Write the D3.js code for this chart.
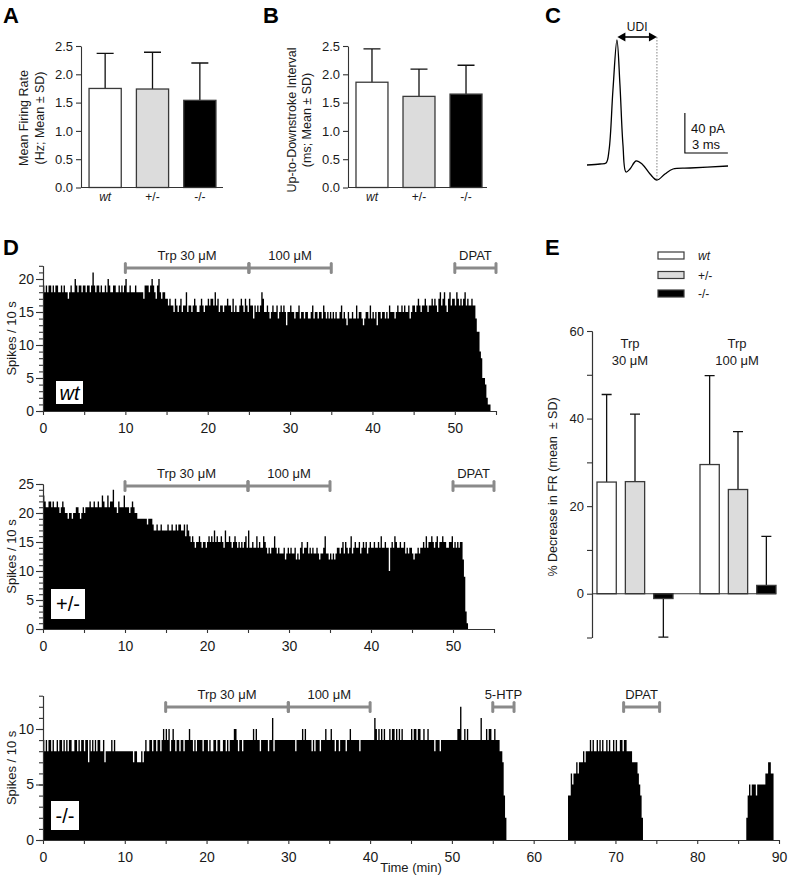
<!DOCTYPE html>
<html>
<head>
<meta charset="utf-8">
<script src="https://cdn.jsdelivr.net/npm/d3@7"></script>
<style>
  body { margin: 0; background: #fff; }
  svg { display: block; }
</style>
</head>
<body>
<svg width="790" height="885"></svg>
<script>
// ---------- data ----------
var genotypes = ['wt', '+/-', '-/-'];
var fillColors = ['#ffffff', '#dcdcdc', '#000000'];

// A: mean firing rate (Hz), B: up-to-downstroke interval (ms)
var rateMean = [1.75, 1.74, 1.54];
var rateSD = [0.62, 0.65, 0.66];
var udiMean = [1.86, 1.61, 1.65];
var udiSD = [0.59, 0.48, 0.51];
var barTicks = [0, 0.5, 1, 1.5, 2, 2.5];

// C: averaged spike waveform (time ms, current pA)
var spikeT = [0, 0.91, 1.33, 1.54, 1.81, 2.09, 2.30, 2.51, 2.72, 3.0, 3.42, 3.84, 4.40, 4.88, 5.44, 6.0, 7.19, 9.84];
var spikeI = [0, 1, 2, 15, 75, 125, 80, 20, -7, -4, 4, 1, -9, -15, -9, -4, -3, -1];
var udiStart = 2.12, udiEnd = 4.88;
var scalePA = 40, scaleMS = 3;

// E: % decrease in firing rate
var trpDoses = ['30 μM', '100 μM'];
var dec30Mean = [25.5, 25.6, -1.1];
var dec30SD = [20.0, 15.4, 8.8];
var dec100Mean = [29.5, 23.8, 1.9];
var dec100SD = [20.3, 13.2, 11.2];
var eTicks = [0, 20, 40, 60];
var eMinorTicks = [-10, 10, 30, 50];

// D: spike counts per 10 s bin
var binMin = 1 / 6;
var wtCounts = [
  19,18,19,18,19,19,18,19,18,19,19,18,18,19,18,19,18,18,17,18,19,18,18,20,19,18,19,19,18,19,
  19,18,19,19,18,19,21,19,18,19,19,18,19,18,18,19,18,20,19,18,18,19,19,18,18,19,18,19,18,19,
  20,18,18,19,18,18,18,19,18,18,18,18,18,17,19,19,19,18,19,20,19,18,17,19,20,18,17,18,18,17,
  17,16,17,16,16,15,17,16,15,16,17,15,16,16,18,15,16,16,15,16,17,16,15,15,16,17,16,15,16,16,
  17,16,17,17,16,18,16,17,15,16,16,15,16,16,17,16,16,15,17,15,16,15,15,16,17,16,15,17,16,15,
  17,16,16,14,16,15,16,15,16,18,17,15,15,16,15,14,15,16,15,15,16,14,15,16,15,16,15,13,15,15,
  16,15,15,14,15,15,16,14,15,15,14,15,15,14,14,15,16,14,15,15,14,15,15,14,16,15,14,15,14,15,
  14,15,14,15,14,14,15,16,14,15,14,13,15,14,14,15,14,14,16,14,15,15,14,13,14,15,15,14,16,14,
  15,14,15,13,15,15,14,15,15,14,15,14,16,15,15,15,14,15,16,15,15,16,15,16,15,15,16,14,15,16,
  16,15,16,17,16,15,16,16,17,16,15,16,16,17,16,17,16,15,17,18,16,17,18,16,15,17,18,16,17,17,
  16,18,17,16,17,16,17,18,16,17,16,16,17,16,16,14,12,12,9,8,5,5,4,2,1,1
];
var hetCounts = [
  23,22,21,21,22,22,21,22,21,21,22,21,20,21,22,21,20,20,19,20,20,19,20,20,21,21,20,19,20,21,
  20,21,21,21,22,21,21,22,21,21,22,21,21,23,22,21,21,23,21,22,22,24,21,21,20,22,21,21,21,23,
  21,21,21,20,21,22,21,20,20,19,19,19,19,19,19,19,18,19,19,19,18,17,17,18,17,17,18,17,17,17,
  17,18,17,17,18,17,17,18,17,18,18,17,17,18,16,18,17,16,15,16,15,14,15,15,16,15,14,15,15,14,
  15,16,15,16,15,17,15,16,15,15,16,15,14,17,15,15,16,15,14,15,16,15,14,15,14,15,14,15,16,14,
  17,14,14,15,14,14,16,14,15,14,14,16,15,14,13,14,13,14,14,16,14,13,14,13,13,13,14,12,13,14,
  13,14,13,13,14,12,13,12,14,15,13,14,14,15,13,14,13,14,13,13,14,13,12,13,13,14,16,13,13,12,
  13,12,13,12,13,14,14,13,14,15,13,15,14,13,14,16,13,14,15,14,14,15,13,14,15,14,15,13,14,15,
  14,14,15,14,14,15,14,16,14,14,15,14,14,10,14,15,14,16,15,14,14,15,14,14,15,13,14,13,14,14,
  13,12,13,13,14,13,14,14,15,14,16,14,15,15,16,15,14,15,16,14,15,15,16,15,15,14,14,15,15,16,
  14,15,14,15,14,15,15,12,9,3,1
];
var koStarts = [0, 64.2, 86.0];
var koBurst1 = [
  9,8,9,8,9,9,8,9,8,8,9,8,9,9,8,9,8,9,8,9,9,8,8,9,9,8,9,8,9,9,
  8,9,9,7,9,8,9,8,9,8,9,9,8,8,9,7,8,8,8,8,9,8,9,8,8,8,8,8,8,8,
  8,8,8,8,8,8,7,8,8,7,7,7,8,7,8,9,8,8,9,9,8,9,9,8,9,9,8,9,10,9,
  10,9,10,8,9,10,9,8,9,9,8,9,9,8,9,9,9,10,9,9,8,9,8,9,9,9,9,8,9,9,
  9,8,9,8,8,9,9,8,9,9,8,8,9,9,8,9,8,9,9,9,10,10,9,8,9,9,8,9,9,9,
  9,9,9,9,10,9,10,9,9,8,9,9,9,9,9,8,9,9,11,8,9,9,9,9,9,9,9,9,9,9,
  9,9,9,9,9,8,9,9,9,9,10,9,10,9,9,9,9,8,9,8,9,9,9,8,9,9,9,10,9,9,
  9,10,9,9,8,9,9,8,9,9,9,9,8,9,9,10,9,9,9,9,9,9,8,9,9,9,9,9,9,9,
  9,9,9,11,10,9,10,9,10,9,10,9,9,9,10,9,10,10,9,10,9,10,9,10,9,9,9,9,9,9,
  10,9,10,10,9,10,10,9,9,10,9,9,10,9,9,9,9,8,9,9,9,8,9,9,9,9,9,9,9,9,
  9,9,9,9,10,10,12,9,9,10,9,10,9,9,9,9,9,9,9,9,9,11,9,9,9,10,9,10,10,9,
  9,10,9,9,9,8,8,7,4,2
];
var koBurst2 = [
  4,4,6,5,6,6,7,6,7,7,7,8,7,8,8,8,
  9,8,9,8,8,9,8,9,8,9,8,8,9,8,9,8,8,9,8,9,8,8,
  9,9,8,9,9,8,8,8,8,7,7,7,7,6,5,4,2
];
var koBurst3 = [2,4,5,4,5,5,5,4,5,5,5,5,5,5,6,6,7,7,6,6];

// drug applications: [label, from (min), to (min)]
var wtDrugs = [['Trp 30 μM', 10, 25], ['100 μM', 25, 35], ['DPAT', 50, 55]];
var hetDrugs = [['Trp 30 μM', 10, 25], ['100 μM', 25, 35], ['DPAT', 50, 55]];
var koDrugs = [['Trp 30 μM', 15, 30], ['100 μM', 30, 40], ['5-HTP', 55, 57.6], ['DPAT', 71, 75.4]];

// ---------- drawing ----------
var FONT = '"Liberation Sans", Arial, Helvetica, sans-serif';
var svg = d3.select('svg').style('font-family', FONT);
svg.append('rect').attr('width', 790).attr('height', 885).attr('fill', '#fff');

function styleAxis(g, size) {
  g.selectAll('path, line').attr('stroke', '#333').attr('stroke-width', 1.1);
  g.selectAll('text').attr('fill', '#1a1a1a').style('font-size', (size || 13) + 'px').style('font-family', FONT);
}

function letter(t, x, y) {
  svg.append('text').attr('x', x).attr('y', y).text(t)
    .style('font-size', '22px').style('font-weight', 'bold').attr('fill', '#000');
}

function rotLabel(lines, x, y, gap) {
  lines.forEach(function(l, i) {
    svg.append('text')
      .attr('transform', 'translate(' + (x + i * gap) + ',' + y + ') rotate(-90)')
      .attr('text-anchor', 'middle')
      .style('font-size', '12.5px').style('white-space', 'pre')
      .attr('fill', '#1a1a1a')
      .text(l);
  });
}

// ---- A and B ----
function barPanel(o) {
  var y = d3.scaleLinear().domain([0, 2.5]).range([187.5, 46]);
  var x = d3.scaleBand().domain(genotypes).range([o.x0, o.x1]).paddingInner(0.32).paddingOuter(0.17);
  var g = svg.append('g');
  // error bars (upper only)
  g.selectAll('.eb').data(o.mean).enter().append('path')
    .attr('d', function(d, i) {
      var cx = x(genotypes[i]) + x.bandwidth() / 2;
      var top = y(d + o.sd[i]);
      return 'M' + cx + ',' + y(d) + 'V' + top + 'M' + (cx - 8.5) + ',' + top + 'H' + (cx + 8.5);
    })
    .attr('stroke', '#111').attr('stroke-width', 1.3).attr('fill', 'none');
  g.selectAll('.bar').data(o.mean).enter().append('rect')
    .attr('x', (d, i) => x(genotypes[i]))
    .attr('y', d => y(d))
    .attr('width', x.bandwidth())
    .attr('height', d => y(0) - y(d))
    .attr('fill', (d, i) => fillColors[i])
    .attr('stroke', '#3a3a3a').attr('stroke-width', 1.3);
  var ya = g.append('g').attr('transform', 'translate(' + o.x0 + ',0)')
    .call(d3.axisLeft(y).tickValues(barTicks).tickFormat(d3.format('.1f')).tickSize(5).tickPadding(3).tickSizeOuter(0));
  styleAxis(ya, 13);
  g.append('line').attr('x1', o.x0).attr('x2', o.xEnd).attr('y1', y(0)).attr('y2', y(0))
    .attr('stroke', '#333').attr('stroke-width', 1.1);
  g.selectAll('.cat').data(genotypes).enter().append('text')
    .attr('x', d => x(d) + x.bandwidth() / 2).attr('y', 201)
    .attr('text-anchor', 'middle').style('font-size', '12px')
    .style('font-style', d => d === 'wt' ? 'italic' : 'normal')
    .attr('fill', '#1a1a1a').text(d => d);
}

letter('A', 3, 23);
barPanel({ x0: 81, x1: 224, xEnd: 223, mean: rateMean, sd: rateSD });
rotLabel(['Mean Firing Rate', '(Hz; Mean ± SD)'], 28, 118, 16);

letter('B', 263, 23);
barPanel({ x0: 348, x1: 490, xEnd: 487, mean: udiMean, sd: udiSD });
rotLabel(['Up-to-Downstroke Interval', '(ms; Mean ± SD)'], 296, 120, 15);

// ---- C ----
letter('C', 545, 23);
(function() {
  var x = d3.scaleLinear().domain([0, 10]).range([587, 730.3]);
  var y = d3.scaleLinear().domain([0, 125]).range([165, 40]);
  var pts = spikeT.map((t, i) => [t, spikeI[i]]);
  var line = d3.line().x(d => x(d[0])).y(d => y(d[1])).curve(d3.curveCatmullRom.alpha(0.5));
  svg.append('path').datum(pts).attr('d', line)
    .attr('fill', 'none').attr('stroke', '#000').attr('stroke-width', 1.3);
  // dashed marker at downstroke
  svg.append('line').attr('x1', x(udiEnd)).attr('x2', x(udiEnd)).attr('y1', y(128)).attr('y2', y(-15))
    .attr('stroke', '#777').attr('stroke-width', 0.9).attr('stroke-dasharray', '1.5,1.5');
  // UDI double arrow
  var ay = y(128), xa = x(udiStart), xb = x(udiEnd);
  svg.append('line').attr('x1', xa + 6).attr('x2', xb - 6).attr('y1', ay).attr('y2', ay)
    .attr('stroke', '#000').attr('stroke-width', 1.6);
  svg.append('path').attr('d', 'M' + xa + ',' + ay + 'l8,-4.5v9z').attr('fill', '#000');
  svg.append('path').attr('d', 'M' + xb + ',' + ay + 'l-8,-4.5v9z').attr('fill', '#000');
  svg.append('text').attr('x', (xa + xb) / 2).attr('y', 31).attr('text-anchor', 'middle')
    .style('font-size', '12px').attr('fill', '#111').text('UDI');
  // scale bar
  var sx = x(6.83), sy = y(12);
  svg.append('path')
    .attr('d', 'M' + sx + ',' + y(12 + scalePA) + 'V' + sy + 'H' + x(6.83 + scaleMS))
    .attr('fill', 'none').attr('stroke', '#000').attr('stroke-width', 1.1);
  svg.append('text').attr('x', 708).attr('y', 133).attr('text-anchor', 'middle')
    .style('font-size', '13px').attr('fill', '#111').text(scalePA + ' pA');
  svg.append('text').attr('x', 706).attr('y', 149).attr('text-anchor', 'middle')
    .style('font-size', '13px').attr('fill', '#111').text(scaleMS + ' ms');
})();

// ---- D ----
letter('D', 3, 255);
function histPanel(o) {
  var x = d3.scaleLinear().domain([0, o.xMax]).range([43, o.xEnd]);
  var y = d3.scaleLinear().domain([0, o.yMax]).range([o.yBase, o.yTop]);
  var g = svg.append('g');
  // each burst is drawn as one stepped area so neighbouring bins do not leave seams
  var area = d3.area().curve(d3.curveStepAfter)
    .x(d => x(d[0])).y0(y(0)).y1(d => y(d[1]));
  o.bursts.forEach(function(b) {
    var pts = b.counts.map((c, i) => [b.start + i * binMin, c]);
    pts.push([b.start + b.counts.length * binMin, b.counts[b.counts.length - 1]]);
    g.append('path').datum(pts).attr('d', area).attr('fill', '#000');
  });
  var minor = g.append('g').attr('transform', 'translate(43,0)')
    .call(d3.axisLeft(y).tickValues(d3.range(0, o.yMax + 1)).tickSize(4).tickFormat('').tickSizeOuter(0));
  styleAxis(minor);
  var major = g.append('g').attr('transform', 'translate(43,0)')
    .call(d3.axisLeft(y).tickValues(d3.range(0, o.yMax + 1, 5)).tickSize(7).tickPadding(2).tickSizeOuter(0));
  styleAxis(major, 14);
  var xa = g.append('g').attr('transform', 'translate(0,' + o.yBase + ')')
    .call(d3.axisBottom(x).tickValues(d3.range(0, o.xMax + 1, 5)).tickSize(4).tickPadding(8)
      .tickFormat(d => d % 10 === 0 ? d : '').tickSizeOuter(0));
  styleAxis(xa, 14);
  // drug bars
  o.drugs.forEach(function(dr) {
    var x1 = x(dr[1]), x2 = x(dr[2]);
    g.append('line').attr('x1', x1).attr('x2', x2).attr('y1', o.drugY).attr('y2', o.drugY)
      .attr('stroke', '#8a8a8a').attr('stroke-width', 3);
    [x1, x2].forEach(function(xx) {
      g.append('line').attr('x1', xx).attr('x2', xx).attr('y1', o.drugY - 4.5).attr('y2', o.drugY + 4.5)
        .attr('stroke', '#8a8a8a').attr('stroke-width', 3).attr('stroke-linecap', 'round');
    });
    g.append('text').attr('x', (x1 + x2) / 2).attr('y', o.drugY - 8)
      .attr('text-anchor', 'middle').style('font-size', '13px').attr('fill', '#1a1a1a').text(dr[0]);
  });
  // genotype box
  g.append('rect').attr('x', o.box[0]).attr('y', o.box[1]).attr('width', o.box[2]).attr('height', o.box[3])
    .attr('fill', '#fff');
  g.append('text').attr('x', o.box[0] + o.box[2] / 2).attr('y', o.box[1] + o.box[3] / 2 + 7)
    .attr('text-anchor', 'middle').style('font-size', '20px')
    .style('font-style', o.name === 'wt' ? 'italic' : 'normal').attr('fill', '#000').text(o.name);
  // y label
  g.append('text').attr('transform', 'translate(16,' + ((o.yBase + o.yTop) / 2) + ') rotate(-90)')
    .attr('text-anchor', 'middle').style('font-size', '13px').attr('fill', '#1a1a1a').text('Spikes / 10 s');
}

histPanel({ name: 'wt', xMax: 55, xEnd: 496, yMax: 22, yBase: 411, yTop: 265.8,
  bursts: [{ start: 0, counts: wtCounts }], drugs: wtDrugs, drugY: 268, box: [56, 381, 27, 23] });
histPanel({ name: '+/-', xMax: 55, xEnd: 494, yMax: 25, yBase: 629, yTop: 484,
  bursts: [{ start: 0, counts: hetCounts }], drugs: hetDrugs, drugY: 486, box: [51, 589, 34, 30] });
histPanel({ name: '-/-', xMax: 90, xEnd: 779, yMax: 13, yBase: 840, yTop: 695.7,
  bursts: [{ start: koStarts[0], counts: koBurst1 }, { start: koStarts[1], counts: koBurst2 }, { start: koStarts[2], counts: koBurst3 }],
  drugs: koDrugs, drugY: 707, box: [51, 801, 28, 29] });
svg.append('text').attr('x', 411).attr('y', 872).attr('text-anchor', 'middle')
  .style('font-size', '13px').attr('fill', '#1a1a1a').text('Time (min)');

// ---- E ----
letter('E', 545, 255);
(function() {
  var y = d3.scaleLinear().domain([-10, 60]).range([637.5, 331]);
  var xG = d3.scaleBand().domain(trpDoses).range([592, 781]).paddingInner(0.262).paddingOuter(0.0485);
  var xI = d3.scaleBand().domain(genotypes).range([0, xG.bandwidth()]).paddingInner(0.32);
  var means = [dec30Mean, dec100Mean], sds = [dec30SD, dec100SD];
  var g = svg.append('g');
  trpDoses.forEach(function(dose, k) {
    var gg = g.append('g').attr('transform', 'translate(' + xG(dose) + ',0)');
    gg.selectAll('.eb').data(means[k]).enter().append('path')
      .attr('d', function(d, i) {
        var cx = xI(genotypes[i]) + xI.bandwidth() / 2;
        var end = d >= 0 ? y(d + sds[k][i]) : y(d - sds[k][i]);
        return 'M' + cx + ',' + y(d) + 'V' + end + 'M' + (cx - 5) + ',' + end + 'H' + (cx + 5);
      })
      .attr('stroke', '#111').attr('stroke-width', 1.3).attr('fill', 'none');
    gg.selectAll('.bar').data(means[k]).enter().append('rect')
      .attr('x', (d, i) => xI(genotypes[i]))
      .attr('y', d => y(Math.max(d, 0)))
      .attr('width', xI.bandwidth())
      .attr('height', d => Math.abs(y(0) - y(d)))
      .attr('fill', (d, i) => fillColors[i])
      .attr('stroke', '#3a3a3a').attr('stroke-width', 1.3);
    var cx = xG(dose) + xG.bandwidth() / 2 - 5;
    g.append('text').attr('x', cx + (k ? 4 : 0)).attr('y', 348).attr('text-anchor', 'middle')
      .style('font-size', '13px').attr('fill', '#1a1a1a').text('Trp');
    g.append('text').attr('x', cx + (k ? 4 : 0)).attr('y', 365).attr('text-anchor', 'middle')
      .style('font-size', '13px').attr('fill', '#1a1a1a').text(dose);
  });
  g.append('line').attr('x1', 592).attr('x2', 776).attr('y1', y(0)).attr('y2', y(0))
    .attr('stroke', '#333').attr('stroke-width', 1.1);
  var minor = g.append('g').attr('transform', 'translate(592,0)')
    .call(d3.axisLeft(y).tickValues(eMinorTicks).tickSize(5).tickFormat('').tickSizeOuter(0));
  styleAxis(minor);
  var major = g.append('g').attr('transform', 'translate(592,0)')
    .call(d3.axisLeft(y).tickValues(eTicks).tickSize(5).tickPadding(3).tickSizeOuter(0));
  styleAxis(major, 13);
  rotLabel(['% Decrease in FR (mean  ± SD)'], 557, 487, 0);
  // legend
  genotypes.forEach(function(gt, i) {
    var ly = [252, 271.5, 290][i];
    g.append('rect').attr('x', 658).attr('y', ly).attr('width', 26).attr('height', 7)
      .attr('fill', fillColors[i]).attr('stroke', '#3a3a3a').attr('stroke-width', 1.2);
    g.append('text').attr('x', 698).attr('y', ly + 8).style('font-size', '12px')
      .style('font-style', gt === 'wt' ? 'italic' : 'normal').attr('fill', '#1a1a1a').text(gt);
  });
})();
</script>
</body>
</html>
